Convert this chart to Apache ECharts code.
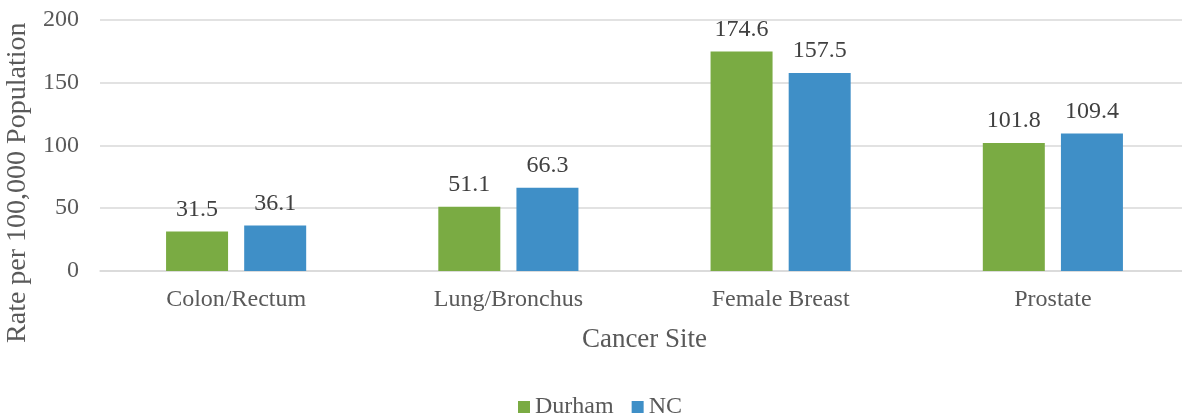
<!DOCTYPE html>
<html><head><meta charset="utf-8">
<script src="https://cdn.jsdelivr.net/npm/echarts@6/dist/echarts.min.js"></script>
<style>html,body{margin:0;padding:0;background:#fff}#c{width:1182px;height:416px}</style>
</head><body><div id="c"></div>
<script>
const categories = ["Colon/Rectum", "Lung/Bronchus", "Female Breast", "Prostate"];
const durham = [31.5, 51.1, 174.6, 101.8];
const nc = [36.1, 66.3, 157.5, 109.4];
const yTicks = [0, 50, 100, 150, 200];

const font = "Liberation Serif";
const txt = "#595959";
const chart = echarts.init(document.getElementById('c'));
const lbl = {show: true, position: 'top', distance: 10, color: '#404040', fontFamily: font, fontSize: 24};
chart.setOption({
  animation: false,
  grid: {left: 100, right: -7, top: 19.5, bottom: 145, containLabel: false, outerBoundsMode: 'none'},
  legend: {
    bottom: -8, left: 513, itemWidth: 12, itemHeight: 12, itemGap: 18,
    icon: 'rect',
    textStyle: {fontFamily: font, fontSize: 24, color: txt, padding: [0, 0, 0, 0]},
    data: ['Durham', 'NC']
  },
  xAxis: {
    type: 'category', data: categories,
    name: 'Cancer Site', nameLocation: 'middle', nameGap: 55,
    nameTextStyle: {fontFamily: font, fontSize: 27, color: txt},
    axisTick: {show: false},
    axisLine: {lineStyle: {color: '#d9d9d9', width: 1.5}},
    axisLabel: {fontFamily: font, fontSize: 24, color: txt, margin: 17}
  },
  yAxis: {
    type: 'value', min: yTicks[0], max: yTicks[yTicks.length - 1], interval: 50,
    name: 'Rate per 100,000 Population', nameLocation: 'middle', nameGap: 63,
    nameTextStyle: {fontFamily: font, fontSize: 28, color: txt, padding: [0, 75, 0, 0]},
    axisLine: {show: false}, axisTick: {show: false},
    axisLabel: {fontFamily: font, fontSize: 24, color: txt, margin: 21},
    splitLine: {lineStyle: {color: '#d9d9d9', width: 1.5}}
  },
  series: [
    {name: 'Durham', type: 'bar', data: durham, barWidth: 62, barGap: '26%',
     itemStyle: {color: '#7AAB43'}, label: lbl},
    {name: 'NC', type: 'bar', data: nc, barWidth: 62,
     itemStyle: {color: '#3F8FC7'}, label: lbl}
  ]
});
</script></body></html>
